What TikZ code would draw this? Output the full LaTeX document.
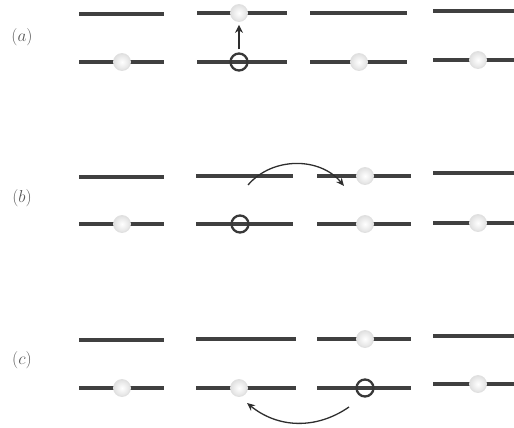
\documentclass[tikz,border=0pt]{standalone}
\usetikzlibrary{arrows.meta}
\begin{document}
\begin{tikzpicture}[x=1pt,y=-1pt,
  level/.style={line width=3.2pt,draw=black!75},
  ball/.style={circle,minimum size=17pt,inner sep=0pt,draw=black!12,line width=0.8pt,inner color=white,outer color=black!12},
  hole/.style={circle,minimum size=17pt,inner sep=0pt,draw=black!78,line width=2.3pt,fill=none},
  jump/.style={-{Stealth[length=8pt,width=7pt]},line width=1.6pt,draw=black!82},
  lbl/.style={font=\fontsize{16}{18}\selectfont,text=black!65}]
\useasboundingbox (0,0) rectangle (514,428);
% labels
\node[lbl] (la) at (22,37) {$(a)$};
\node[lbl] (lb) at (22,198) {$(b)$};
\node[lbl] (lc) at (22,360) {$(c)$};
% row a
\draw[level] (79,14) -- (164,14);
\draw[level] (197,13) -- (287,13);
\draw[level] (310,13) -- (407,13);
\draw[level] (433,11) -- (514,11);
\draw[level] (79,62) -- (164,62);
\draw[level] (197,62) -- (287,62);
\draw[level] (310,62) -- (407,62);
\draw[level] (433,60) -- (514,60);
\node[ball] (a1) at (122,62) {};
\node[hole] (a2) at (239,62) {};
\node[ball] (a2t) at (239,13) {};
\node[ball] (a3) at (359,62) {};
\node[ball] (a4) at (478,60) {};
\draw[jump,line width=2.2pt,-{Stealth[length=8pt,width=8pt]},shorten <=3pt,shorten >=3pt] (a2.north) -- (a2t.south);
% row b
\draw[level] (79,177) -- (164,177);
\draw[level] (196,176) -- (293,176);
\draw[level] (317,176) -- (411,176);
\draw[level] (433,173) -- (514,173);
\draw[level] (79,224) -- (164,224);
\draw[level] (196,224) -- (293,224);
\draw[level] (317,224) -- (411,224);
\draw[level] (433,223) -- (514,223);
\node[ball] (b1) at (122,224) {};
\node[hole] (b2) at (240,224) {};
\node[ball] (b3t) at (365,176) {};
\node[ball] (b3) at (365,224) {};
\node[ball] (b4) at (478,223) {};
\coordinate (bs) at (248,185);
\coordinate (be) at (344,186);
\draw[jump,line width=1.3pt] (bs) to[bend left=50] (be);
% row c
\draw[level] (79,340) -- (164,340);
\draw[level] (196,339) -- (296,339);
\draw[level] (317,339) -- (411,339);
\draw[level] (433,336) -- (514,336);
\draw[level] (79,388) -- (164,388);
\draw[level] (196,388) -- (296,388);
\draw[level] (317,388) -- (411,388);
\draw[level] (433,384) -- (514,384);
\node[ball] (c1) at (122,388) {};
\node[ball] (c2) at (239,388) {};
\node[ball] (c3t) at (365,339) {};
\node[hole] (c3) at (365,388) {};
\node[ball] (c4) at (478,384) {};
\coordinate (cs) at (349,407);
\coordinate (ce) at (247,403);
\draw[jump,line width=1.3pt] (cs) to[bend left=37] (ce);
\end{tikzpicture}
\end{document}
